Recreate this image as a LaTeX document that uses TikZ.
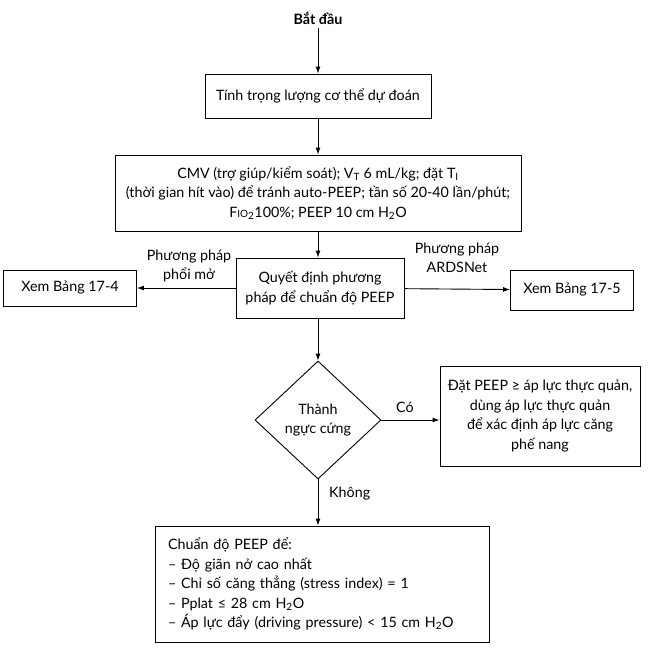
\documentclass[tikz,border=0pt]{standalone}
\usepackage{fontspec}
\setmainfont{Lato}
\usetikzlibrary{arrows.meta,positioning,shapes.geometric}

\begin{document}
\begin{tikzpicture}[
    x=1pt,y=-1pt,
    every node/.style={font=\fontsize{14.3}{19.5}\selectfont},
    box/.style={draw,line width=0.9pt,align=center,inner sep=3pt},
    choice/.style={draw,line width=0.9pt,diamond,align=center,inner sep=0pt,
                   minimum width=126pt,minimum height=118pt},
    lbl/.style={align=center,inner sep=1pt},
    arr/.style={line width=0.9pt,-{Latex[length=7pt,width=5pt]}}
  ]
  \useasboundingbox (0,0) rectangle (664,649);

  \node[font=\fontsize{14.3}{19.5}\selectfont\bfseries] (start) at (318,18) {Bắt đầu};
  \node[box,minimum width=226pt,minimum height=44pt] (weight) at (318,96)
        {Tính trọng lượng cơ thể dự đoán};
  \node[box,minimum width=406pt,minimum height=76pt] (cmv) at (318,193)
        {CMV (trợ giúp/kiểm soát); V\textsubscript{T} 6 mL/kg; đặt T\textsubscript{I}\\
         (thời gian hít vào) để tránh auto-PEEP; tần số 20-40 lần/phút;\\
         F{\fontsize{10}{10}\selectfont IO}\textsubscript{2}100\%; PEEP 10 cm H\textsubscript{2}O};

  \node[box,minimum width=168pt,minimum height=60pt] (decide) at (320,288)
        {Quyết định phương\\pháp để chuẩn độ PEEP};
  \node[box,minimum width=133pt,minimum height=36pt] (tab4) at (70,288) {Xem Bảng 17-4};
  \node[box,minimum width=123pt,minimum height=40pt] (tab5) at (572,290) {Xem Bảng 17-5};
  \node[lbl] (open) at (189,266) {Phương pháp\\phổi mở};
  \node[lbl] (ards) at (457,258) {Phương pháp\\ARDSNet};

  \node[choice] (stiff) at (318,420) {Thành\\ngực cứng};
  \node[box,minimum width=200pt,minimum height=100pt] (eso) at (540,416)
        {Đặt PEEP ≥ áp lực thực quản,\\dùng áp lực thực quản\\để xác định áp lực căng\\phế nang};
  \node[lbl] (yes) at (405,407) {Có};
  \node[lbl,anchor=west] (no) at (328,494) {Không};

  \node[box,minimum width=334pt,minimum height=116pt,align=left,inner xsep=12pt,
        text width=308pt] (titr) at (322,584)
        {Chuẩn độ PEEP để:\\
         -- Độ giãn nở cao nhất\\
         -- Chỉ số căng thẳng (stress index) = 1\\
         -- Pplat ≤ 28 cm H\textsubscript{2}O\\
         -- Áp lực đẩy (driving pressure) < 15 cm H\textsubscript{2}O};

  \draw[arr] (start) -- (weight);
  \draw[arr] (weight) -- (cmv);
  \draw[arr] (cmv.south) -- (cmv.south |- decide.north);
  \draw[arr] (decide) -- (tab4);
  \draw[arr] (decide) -- (tab5);
  \draw[arr] (decide.south -| stiff.north) -- (stiff.north);
  \draw[arr] (stiff.east) -- (stiff.east -| eso.west);
  \draw[arr] (stiff.south) -- (stiff.south |- titr.north);
\end{tikzpicture}
\end{document}
